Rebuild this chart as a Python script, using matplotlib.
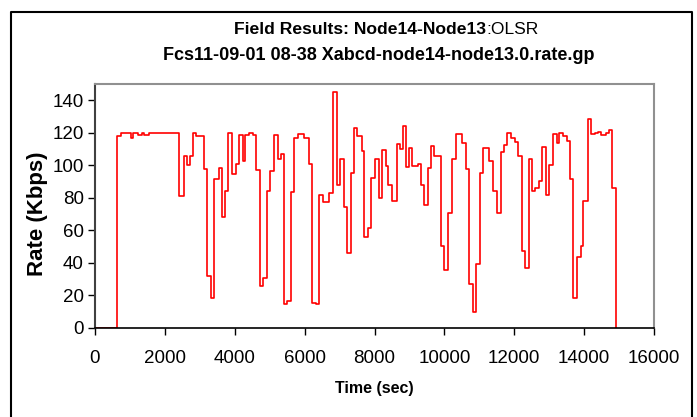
import numpy as np
import matplotlib
matplotlib.use('Agg')
import matplotlib.pyplot as plt
from matplotlib.lines import Line2D

plt.rcParams['font.family'] = ['Liberation Sans', 'DejaVu Sans']

# step start times (sec) and rates (Kbps)
time_sec = [0, 640, 735, 1021, 1097, 1240, 1336, 1402, 1536, 2413,
            2547, 2623, 2719, 2814, 2891, 3120, 3215, 3310, 3415, 3549,
            3625, 3721, 3797, 3935, 4040, 4131, 4226, 4298, 4400, 4513,
            4608, 4722, 4818, 4913, 5009, 5123, 5237, 5314, 5419, 5505,
            5610, 5705, 5820, 5982, 6115, 6211, 6325, 6421, 6516, 6707,
            6821, 6917, 7012, 7126, 7203, 7317, 7413, 7508, 7632, 7708,
            7804, 7910, 8014, 8118, 8204, 8319, 8395, 8510, 8634, 8729,
            8805, 8891, 8996, 9082, 9254, 9321, 9416, 9521, 9616, 9712,
            9903, 9998, 10093, 10208, 10332, 10494, 10608, 10713, 10809, 10904,
            11019, 11114, 11276, 11400, 11515, 11610, 11715, 11801, 11896, 12020,
            12106, 12211, 12297, 12410, 12497, 12593, 12717, 12793, 12898, 12993,
            13098, 13213, 13289, 13403, 13499, 13594, 13690, 13804, 13909, 13976,
            14119, 14195, 14310, 14405, 14481, 14615, 14710, 14806, 14911]
rate_kbps = [0, 118, 120, 117, 120, 118.5, 120, 118.5, 120, 81,
             106, 100.5, 106, 120, 118, 98, 32, 18.5, 91.5, 98.5,
             68, 84.5, 120, 94.4, 101, 118.5, 102.6, 118.5, 120, 118.5,
             97, 25.7, 30.8, 84.5, 96.6, 118.5, 103.8, 106.7, 14.6, 16.4,
             83.7, 116.5, 119, 116.5, 101, 15.4, 14.6, 82, 77.5, 82.7,
             144.8, 87.8, 103.8, 74.5, 46.2, 95, 123, 118, 108.7, 56,
             61.5, 92.3, 103.8, 80, 109.3, 99.7, 88.2, 78.2, 113, 109.9,
             124, 99, 110.4, 99.7, 101, 87.8, 75.9, 98.5, 111.8, 105.8,
             50.3, 35.9, 71, 104.2, 119, 114, 97.7, 27.3, 9.9, 39.2,
             95, 110.4, 102.6, 84.5, 70.8, 108.3, 112.4, 120, 116.5, 114.5,
             105.8, 47.2, 36.9, 103.8, 84.1, 85.8, 90.3, 111.2, 82, 100.5,
             119.3, 113.5, 120, 118, 115.1, 91.9, 18.5, 43.5, 50.5, 78.2,
             128.2, 119, 120, 120.6, 118.5, 120, 121.7, 85.8, 0]

fig = plt.figure(figsize=(6.97, 4.17), dpi=100)
ax = fig.add_axes([95/697, 1-328/417, (654-95)/697, (328-84)/417])

ax.step(time_sec, rate_kbps, where='post', color='#FF0000', lw=1.2)

ax.set_xlim(0, 16000)
ax.set_ylim(0, 150)
ax.set_xticks(np.arange(0, 16001, 2000))
ax.set_yticks(np.arange(0, 141, 20))
ax.tick_params(direction='out', length=5, width=1, labelsize=13.5, colors='black')
ax.tick_params(axis='x', pad=11)
ax.tick_params(axis='y', pad=3)
for s in ['top', 'right']:
    ax.spines[s].set_color('#909090')
    ax.spines[s].set_linewidth(1.5)
ax.spines['left'].set_color('#404040')
ax.spines['left'].set_linewidth(1.5)
ax.spines['bottom'].set_color('black')
ax.spines['bottom'].set_linewidth(1.2)

ax.set_xlabel('Time (sec)', fontsize=11.5, fontweight='bold', labelpad=10)
ax.set_ylabel('Rate (Kbps)', fontsize=16, fontweight='bold', labelpad=3)
ax.yaxis.label.set_y(0.47)

# titles: bold part + regular part
fig.text(486/697, 1-30/417, 'Field Results: Node14-Node13', ha='right', va='center',
         fontsize=12.6, fontweight='bold')
fig.text(486/697, 1-30/417, ':OLSR', ha='left', va='center', fontsize=12.6)
fig.text(379/697, 1-55/417, 'Fcs11-09-01 08-38 Xabcd-node14-node13.0.rate.gp',
         ha='center', va='center', fontsize=13, fontweight='bold')

# outer frame (open at the bottom)
x0, x1, y0 = 11/697, 692/697, 1-12/417
fig.add_artist(Line2D([x0, x0, x1, x1], [0, y0, y0, 0], transform=fig.transFigure,
                      color='black', lw=1.5))

fig.savefig('out.png', dpi=100)
